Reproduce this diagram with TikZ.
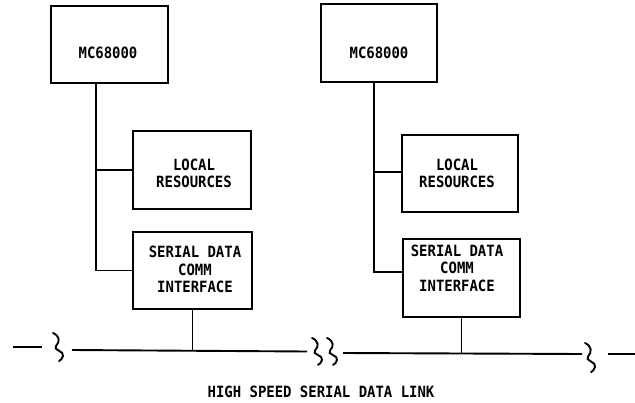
\documentclass[tikz,border=0pt]{standalone}
\usepackage{fontspec}
\setmainfont{DejaVu Sans Mono}[FakeStretch=0.9]
\begin{document}
\begin{tikzpicture}[x=1pt,y=-1pt,
  box/.style={draw,line width=1.8pt,rectangle,inner sep=0pt},
  txt/.style={font=\fontsize{15.5}{17.5}\selectfont\bfseries,align=center,inner sep=0pt},
  wire/.style={line width=1.8pt},
  bus/.style={line width=1.9pt},
  squig/.style={line width=1.9pt,line cap=round}]
\useasboundingbox (0,0) rectangle (635,402);
% boxes
\node[box,minimum width=117pt,minimum height=77pt,
  label={[txt,xshift=-1.5pt,yshift=-8.5pt]center:MC68000}] (mc1) at (109.5,44.5) {};
\node[box,minimum width=116pt,minimum height=78pt,
  label={[txt,yshift=-10pt]center:MC68000}] (mc2) at (379,43) {};
\node[box,minimum width=118pt,minimum height=78pt,
  label={[txt,xshift=2pt,yshift=-3.5pt]center:LOCAL\\RESOURCES}] (loc1) at (192,170) {};
\node[box,minimum width=116pt,minimum height=77pt,
  label={[txt,xshift=-3pt]center:LOCAL\\RESOURCES}] (loc2) at (460,173.5) {};
\node[box,minimum width=119pt,minimum height=77pt,
  label={[txt,xshift=2.5pt,yshift=1pt]center:SERIAL DATA\\COMM\\INTERFACE}] (ser1) at (192.5,270.5) {};
\node[box,minimum width=117pt,minimum height=78pt,
  label={[txt,xshift=-4.5pt,yshift=10pt]center:SERIAL DATA\\COMM\\INTERFACE}] (ser2) at (461.5,278) {};
% vertical buses
\coordinate (v1) at (96,0);
\coordinate (v2) at (374,0);
\draw[wire] (v1 |- mc1.south) -- (v1 |- ser1.west) -- (ser1.west);
\draw[wire] (v1 |- loc1.west) -- (loc1.west);
\draw[wire] (v2 |- mc2.south) -- (v2 |- 0,272) -- ([yshift=6pt]ser2.west);
\draw[wire] (v2 |- 0,172) -- ([yshift=1.5pt]loc2.west);
% serial link
\coordinate (dLa) at (13,347);
\coordinate (dLb) at (42,347);
\coordinate (bLa) at (72,350);
\coordinate (bLb) at (307,351.5);
\coordinate (bRa) at (343,353);
\coordinate (bRb) at (582,354);
\coordinate (dRa) at (608,354);
\coordinate (dRb) at (635,354);
\draw[bus] (dLa) -- (dLb);
\draw[bus] (bLa) -- (bLb);
\draw[bus] (bRa) -- (bRb);
\draw[bus] (dRa) -- (dRb);
\draw[wire] (ser1.south) -- (ser1.south |- 0,351);
\draw[wire] (ser2.south) -- (ser2.south |- 0,353.5);
% break marks
\foreach \px/\py/\s in {53/333/1, 312/338/0.96, 327/338/0.96, 585/343/1.04}{
  \draw[squig,shift={(\px,\py)},yscale=\s]
    (0,0) .. controls (7,3) and (7,9) .. (3,13)
          .. controls (-1,17) and (12,18) .. (10,23)
          .. controls (9,26) and (8,27) .. (6,28);
}
\node[txt] (lbl) at (321,392) {HIGH SPEED SERIAL DATA LINK};
\end{tikzpicture}
\end{document}
